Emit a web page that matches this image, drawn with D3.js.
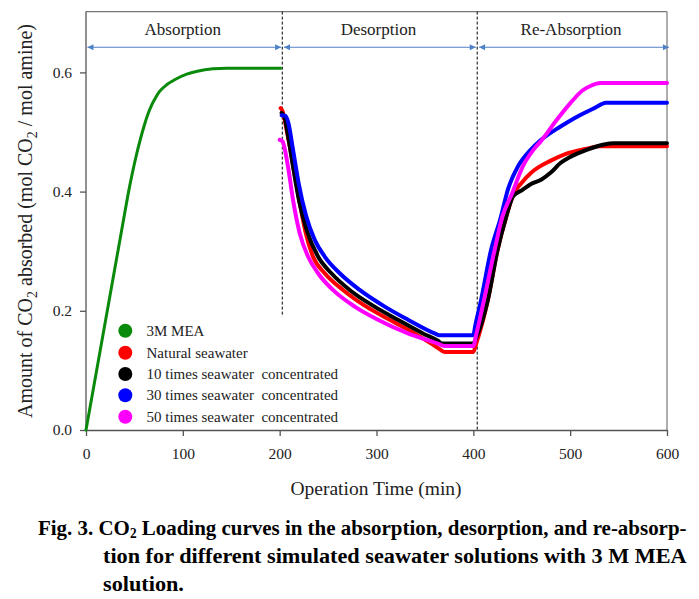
<!DOCTYPE html>
<html><head><meta charset="utf-8">
<script src="https://cdn.jsdelivr.net/npm/d3@7"></script>
<style>
html,body{margin:0;padding:0;background:#fff;}
svg{display:block;}
text{font-family:"Liberation Serif","Times New Roman",serif;}
</style></head>
<body>
<svg id="chart" width="699" height="599"></svg>
<script>
// ---------- data ----------
const xTicks = [0,100,200,300,400,500,600];
const yTicks = [0.0,0.2,0.4,0.6];
const phaseLabels = ["Absorption","Desorption","Re-Absorption"];
const phaseBounds = [0,202,404,600];
const seriesNames = ["3M MEA","Natural seawater","10 times seawater  concentrated","30 times seawater  concentrated","50 times seawater  concentrated"];
const seriesColors = ["#0a8a0a","#ff0000","#000000","#0000ff","#ff00ff"];

// 3M MEA (absorption)
const meaT = [0,10,20,30,40,44,48,52,56,60,64,68,72,76,84,92,104,115,131,145,201];
const meaV = [0,0.091,0.182,0.273,0.364,0.400,0.432,0.461,0.487,0.510,0.530,0.546,0.558,0.568,0.580,0.588,0.597,0.602,0.606,0.607,0.607];

// Natural seawater
const natT = [201,203,207,212,217,222,227,234.4,246.5,265.4,289.5,313.6,339.4,356.6,364,370.4,400, 403,415,425,434,441,450,460,480,495,517,530,600];
const natV = [0.540,0.535,0.505,0.462,0.415,0.370,0.330,0.291,0.263,0.235,0.207,0.185,0.162,0.145,0.137,0.131,0.131, 0.145,0.218,0.302,0.358,0.394,0.415,0.432,0.452,0.463,0.472,0.476,0.476];

// 10 times concentrated
const x10T = [202,205,209,214,220,228,239.6,253.4,272.3,298,322,348,363,368,400, 403,415,425,434,441,450,460,470,480,490,500,517,535,545,600];
const x10V = [0.532,0.525,0.490,0.440,0.385,0.335,0.291,0.263,0.235,0.207,0.185,0.162,0.150,0.145,0.145, 0.155,0.218,0.302,0.358,0.392,0.402,0.413,0.420,0.432,0.448,0.458,0.470,0.479,0.481,0.481];

// 30 times concentrated
const x30T = [202,206,209,213.8,219.6,227.5,236.2,246.5,262,282.6,308.5,332.5,360,365,400, 402,408,418,428,436,446,458,470,483,496,510,525,537,600];
const x30V = [0.528,0.527,0.515,0.470,0.414,0.358,0.319,0.291,0.263,0.235,0.207,0.185,0.162,0.159,0.159, 0.175,0.218,0.300,0.355,0.405,0.442,0.468,0.487,0.502,0.515,0.528,0.540,0.549,0.549];

// 50 times concentrated
const x50T = [200,203,208.6,213.8,220.7,229.3,239.6,255,277.5,301.5,332.5,363.5,370,400, 403,411,422,430,440,451,462,470,486,500,513,522,531,600];
const x50V = [0.487,0.484,0.442,0.386,0.330,0.291,0.263,0.235,0.207,0.185,0.162,0.145,0.141,0.141, 0.16,0.218,0.302,0.358,0.397,0.442,0.470,0.485,0.520,0.548,0.570,0.578,0.582,0.582];

const seriesT = [meaT,natT,x10T,x30T,x50T];
const seriesV = [meaV,natV,x10V,x30V,x50V];

// ---------- drawing ----------
const svg = d3.select("#chart");
const x = d3.scaleLinear().domain([0,600]).range([86,667]);
const y = d3.scaleLinear().domain([0,0.702]).range([430,11.6]);

// frame top/right
svg.append("line").attr("x1",x(0)).attr("x2",x(600)).attr("y1",y(0.702)).attr("y2",y(0.702)).attr("stroke","#777").attr("stroke-width",1.2);
svg.append("line").attr("x1",x(600)).attr("x2",x(600)).attr("y1",y(0.702)).attr("y2",y(0)).attr("stroke","#777").attr("stroke-width",1.2);

// axes
const gx = svg.append("g").attr("transform",`translate(0,${y(0)})`)
  .call(d3.axisBottom(x).tickValues(xTicks).tickSize(6).tickSizeOuter(0).tickPadding(12));
const gy = svg.append("g").attr("transform",`translate(${x(0)},0)`)
  .call(d3.axisLeft(y).tickValues(yTicks).tickFormat(d3.format(".1f")).tickSize(6).tickSizeOuter(0).tickPadding(8));
[gx,gy].forEach(g=>{
  g.selectAll("path,line").attr("stroke","#555").attr("stroke-width",1.3);
  g.selectAll("text").attr("fill","#222").style("font-size","15.5px").style("font-family","'Liberation Serif',serif");
});
gy.select(".domain").attr("d",`M0,${y(0)}V${y(0.702)}`);

// dashed phase separators
svg.append("line").attr("x1",x(202.7)).attr("x2",x(202.7)).attr("y1",y(0.702)).attr("y2",y(0.19))
  .attr("stroke","#000").attr("stroke-width",1).attr("stroke-dasharray","3,2");
svg.append("line").attr("x1",x(404)).attr("x2",x(404)).attr("y1",y(0.702)).attr("y2",y(0))
  .attr("stroke","#000").attr("stroke-width",1).attr("stroke-dasharray","3,2");

// arrows
const defs = svg.append("defs");
defs.append("marker").attr("id","ah").attr("viewBox","0 0 10 10").attr("refX",10).attr("refY",5)
  .attr("markerWidth",7).attr("markerHeight",6).attr("orient","auto-start-reverse").attr("markerUnits","userSpaceOnUse")
  .append("path").attr("d","M0,0L10,5L0,10z").attr("fill","#4f81c7");
const arrowY = 47.3;
const arrowSegs = [[1.5,201.5],[204.5,402.5],[406,602]];
arrowSegs.forEach(s=>{
  svg.append("line").attr("x1",x(s[0])).attr("x2",x(s[1])).attr("y1",arrowY).attr("y2",arrowY)
    .attr("stroke","#4f81c7").attr("stroke-width",1.1)
    .attr("marker-start","url(#ah)").attr("marker-end","url(#ah)");
});
phaseLabels.forEach((lab,i)=>{
  svg.append("text").attr("x",x((phaseBounds[i]+phaseBounds[i+1])/2)-1).attr("y",35)
    .attr("text-anchor","middle").style("font-size","17px").attr("fill","#222").text(lab);
});

// curves
const line = d3.line().x(d=>x(d[0])).y(d=>y(d[1])).curve(d3.curveMonotoneX);
seriesT.forEach((ts,i)=>{
  const pts = ts.map((t,j)=>[t,seriesV[i][j]]);
  svg.append("path").datum(pts).attr("d",line).attr("fill","none")
    .attr("stroke",seriesColors[i]).attr("stroke-width", i===0?3:4)
    .attr("stroke-linejoin","round").attr("stroke-linecap","round");
});

// legend
const legY = [330.7,352.7,374,395.3,416.7];
seriesNames.forEach((n,i)=>{
  svg.append("circle").attr("cx",125.3).attr("cy",legY[i]).attr("r",7).attr("fill",seriesColors[i]);
  svg.append("text").attr("x",146.5).attr("y",legY[i]+5).style("font-size","15px").style("white-space","pre")
    .attr("fill","#222").text(n);
});

// axis titles
svg.append("text").attr("x",376).attr("y",495).attr("text-anchor","middle").style("font-size","19.5px").attr("fill","#222")
  .text("Operation Time (min)");
const yt = svg.append("text").attr("transform","translate(32,221) rotate(-90)").attr("text-anchor","middle")
  .style("font-size","20px").attr("fill","#222");
yt.append("tspan").text("Amount of CO");
yt.append("tspan").attr("dy",5).style("font-size","14px").text("2");
yt.append("tspan").attr("dy",-5).text(" absorbed (mol CO");
yt.append("tspan").attr("dy",5).style("font-size","14px").text("2");
yt.append("tspan").attr("dy",-5).text(" / mol amine)");

// caption (condensed bold)
function fitLine(sel, x0, target){
  const w = sel.node().getComputedTextLength();
  const k = target / w;
  sel.attr("transform",`translate(${x0},0) scale(${k},1) translate(${-x0},0)`);
  return k;
}
const capSize = "22px";
const cap1 = svg.append("text").attr("x",38).attr("y",535).style("font-size",capSize).style("font-weight","bold").attr("fill","#000");
cap1.append("tspan").text("Fig. 3. CO");
cap1.append("tspan").attr("dy",3).style("font-size","14px").text("2");
cap1.append("tspan").attr("dy",-3).text(" Loading curves in the absorption, desorption, and re-absorp-");
const cap2 = svg.append("text").attr("x",103).attr("y",563).style("font-size",capSize).style("font-weight","bold").attr("fill","#000")
  .text("tion for different simulated seawater solutions with 3 M MEA");
const cap3 = svg.append("text").attr("x",103).attr("y",591).style("font-size",capSize).style("font-weight","bold").attr("fill","#000")
  .text("solution.");
fitLine(cap1, 38, 649);
const k2 = fitLine(cap2, 103, 584);
cap3.attr("transform",`translate(103,0) scale(${k2},1) translate(-103,0)`);
</script>
</body></html>
